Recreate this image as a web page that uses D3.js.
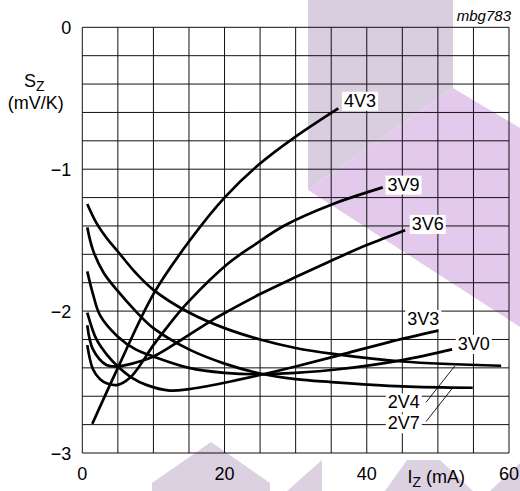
<!DOCTYPE html>
<html lang="en">
<head>
<meta charset="utf-8">
<title>Sz as a function of Iz</title>
<script src="https://cdn.jsdelivr.net/npm/d3@7"></script>
<style>
  body { margin: 0; background: #fff; }
  svg { display: block; font-family: "Liberation Sans", Arial, Helvetica, sans-serif; }
  .grid line { stroke: #111; stroke-width: 1; }
  .curve { fill: none; stroke: #000; stroke-width: 2.7; stroke-linecap: butt; }
  .leader { stroke: #000; stroke-width: 0.9; }
</style>
</head>
<body>
<script>
// tick labels
let xTicks = [0, 20, 40, 60];
let yTicks = [0, -1, -2, -3];

// curves: [Iz (mA), Sz (mV/K)]
let s2V4 = [[0.7, -1.245], [2, -1.38], [3.5, -1.49], [5, -1.58], [7.5, -1.73], [10, -1.85], [15, -2.01],
            [20, -2.12], [25, -2.20], [30, -2.26], [35, -2.30], [45, -2.355], [58.9, -2.385]];
let s2V7 = [[0.7, -1.41], [1.5, -1.57], [3, -1.73], [5, -1.86], [7.5, -2.00], [10, -2.12], [15, -2.27],
            [20, -2.37], [25, -2.44], [30, -2.48], [35, -2.50], [45, -2.53], [54.9, -2.54]];
let s3V0 = [[0.7, -1.72], [1.5, -1.88], [2.5, -2.03], [5, -2.18], [7.5, -2.27], [10, -2.32], [15, -2.40],
            [20, -2.435], [25, -2.445], [30, -2.435], [36, -2.41], [45, -2.345], [52, -2.27]];
let s3V3 = [[0.7, -2.01], [2, -2.20], [3.5, -2.31], [5, -2.39], [7, -2.47], [9, -2.52], [12.3, -2.56],
            [15, -2.55], [20, -2.505], [25, -2.45], [30, -2.39], [36.2, -2.31], [43, -2.22], [50.07, -2.138]];
let s3V6 = [[0.7, -2.10], [1.5, -2.27], [3.4, -2.38], [5, -2.39], [7, -2.37], [10, -2.32], [14, -2.20],
            [18.4, -2.06], [20.5, -2.00], [25, -1.88], [30, -1.76], [35, -1.645], [40, -1.535], [45.4, -1.43]];
let s3V9 = [[0.7, -2.24], [1.5, -2.41], [2.5, -2.48], [3.5, -2.51], [5, -2.52], [6.7, -2.47], [8, -2.39],
            [10, -2.24], [12.6, -2.07], [15, -1.93], [20.5, -1.665], [24, -1.54], [28.5, -1.395], [35, -1.25], [42.25, -1.128]];
let s4V3 = [[1.4, -2.795], [5, -2.40], [10, -1.88], [15, -1.51], [20, -1.20], [25, -0.96], [30, -0.77], [36, -0.571]];

let seriesNames = ["2V4", "2V7", "3V0", "3V3", "3V6", "3V9", "4V3"];
let seriesData = [s2V4, s2V7, s3V0, s3V3, s3V6, s3V9, s4V3];

// where each name is written (text start, baseline) in chart units
let labelMA = [42.95, 42.95, 52.79, 45.70, 46.32, 42.92, 36.8];
let labelS = [-2.685, -2.833, -2.274, -2.098, -1.428, -1.151, -0.560];

// thin pointer lines for 2V4 and 2V7: [mA1, S1, mA2, S2]
let leaders = [[48.33, -2.643, 52.41, -2.385], [48.33, -2.779, 52.03, -2.544]];

// faint background watermark, page pixels
let watermark = [
  { fill: "#d9cde0", pts: [[308, 0], [453, 0], [453, 88], [308, 190]] },
  { fill: "#e3caed", pts: [[308, 190], [453, 88], [520, 128], [520, 327]] },
  { fill: "#dcd1e1", pts: [[152, 491], [152, 483], [211, 442], [270, 483], [270, 491]] },
  { fill: "#dcd1e1", pts: [[287, 491], [322, 460], [322, 491]] },
  { fill: "#dcd1e1", pts: [[385, 491], [407, 460], [440, 460], [473, 491]] },
  { fill: "#dcd1e1", pts: [[490, 491], [520, 463], [520, 491]] }
];

let w = 520, h = 491;

let x = d3.scaleLinear().domain([0, 60]).range([82.3, 509]);
let y = d3.scaleLinear().domain([0, -3]).range([27.3, 453]);

let svg = d3.select("body").append("svg")
  .attr("width", w)
  .attr("height", h);

svg.selectAll("polygon.wm")
  .data(watermark)
  .enter()
  .append("polygon")
  .attr("class", "wm")
  .attr("fill", d => d.fill)
  .attr("points", d => d.pts.map(p => p.join(",")).join(" "));

// grid: 5 mA by 0.2 mV/K
let grid = svg.append("g").attr("class", "grid");
grid.selectAll("line.v")
  .data(x.ticks(12))
  .enter()
  .append("line")
  .attr("x1", d => x(d)).attr("x2", d => x(d))
  .attr("y1", y(0)).attr("y2", y(-3));
grid.selectAll("line.h")
  .data(y.ticks(15))
  .enter()
  .append("line")
  .attr("x1", x(0)).attr("x2", x(60))
  .attr("y1", d => y(d)).attr("y2", d => y(d));

// curves
let line = d3.line()
  .x(d => x(d[0]))
  .y(d => y(d[1]))
  .curve(d3.curveCatmullRom.alpha(0.5));

svg.selectAll("path.curve")
  .data(seriesData)
  .enter()
  .append("path")
  .attr("class", "curve")
  .attr("d", line);

svg.selectAll("line.leader")
  .data(leaders)
  .enter()
  .append("line")
  .attr("class", "leader")
  .attr("x1", d => x(d[0])).attr("y1", d => y(d[1]))
  .attr("x2", d => x(d[2])).attr("y2", d => y(d[3]));

// curve names on white patches
let labels = svg.selectAll("g.lab")
  .data(seriesNames)
  .enter()
  .append("g")
  .attr("class", "lab");

labels.append("text")
  .attr("x", (d, i) => x(labelMA[i]))
  .attr("y", (d, i) => y(labelS[i]))
  .attr("font-size", "18px")
  .attr("fill", "#000")
  .text(d => d);

labels.each(function() {
  let g = d3.select(this);
  let b = g.select("text").node().getBBox();
  g.insert("rect", "text")
    .attr("x", b.x - 2)
    .attr("y", b.y + 1)
    .attr("width", b.width + 4)
    .attr("height", b.height - 1)
    .attr("fill", "#fff");
});

// tick labels
svg.selectAll("text.yt")
  .data(yTicks)
  .enter()
  .append("text")
  .attr("class", "yt")
  .attr("x", x(0) - 11)
  .attr("y", d => y(d) + 7)
  .attr("text-anchor", "end")
  .attr("font-size", "18px")
  .text(d => d == 0 ? "0" : "\u2212" + Math.abs(d));

svg.selectAll("text.xt")
  .data(xTicks)
  .enter()
  .append("text")
  .attr("class", "xt")
  .attr("x", d => x(d))
  .attr("y", y(-3) + 27)
  .attr("text-anchor", "middle")
  .attr("font-size", "18px")
  .text(d => d);

// axis titles
let sz = svg.append("text")
  .attr("x", 24)
  .attr("y", 87)
  .attr("font-size", "18px");
sz.append("tspan").text("S");
sz.append("tspan").attr("font-size", "14px").attr("dy", 4).text("Z");

svg.append("text")
  .attr("x", 35.7)
  .attr("y", 109)
  .attr("text-anchor", "middle")
  .attr("font-size", "18px")
  .text("(mV/K)");

let iz = svg.append("text")
  .attr("x", 407.5)
  .attr("y", 483)
  .attr("font-size", "18px");
iz.append("tspan").text("I");
iz.append("tspan").attr("font-size", "14px").attr("dy", 4).text("Z");
iz.append("tspan").attr("dy", -4).text(" (mA)");

svg.append("text")
  .attr("x", 511)
  .attr("y", 21)
  .attr("text-anchor", "end")
  .attr("font-size", "15px")
  .attr("font-style", "italic")
  .text("mbg783");
</script>
</body>
</html>
